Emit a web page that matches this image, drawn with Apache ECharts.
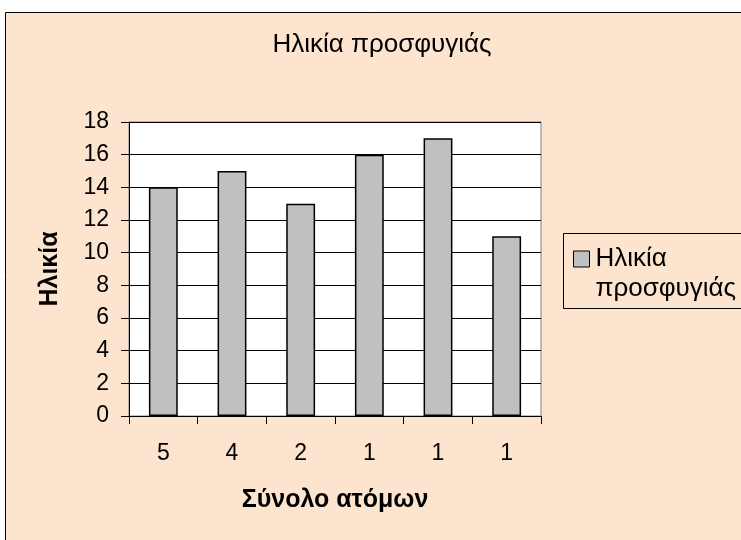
<!DOCTYPE html>
<html>
<head>
<meta charset="utf-8">
<script src="https://cdn.jsdelivr.net/npm/echarts@6/dist/echarts.min.js"></script>
<style>
  html, body { margin: 0; padding: 0; background: #fff; }
  #chart { width: 741px; height: 540px; }
</style>
</head>
<body>
<div id="chart"></div>
<script>
// δεδομένα
const categories = ['5', '4', '2', '1', '1', '1'];
const ages = [14, 15, 13, 16, 17, 11];
const seriesName = 'Ηλικία προσφυγιάς';
const yTicks = { min: 0, max: 18, interval: 2 };

const font = 'Arial, "Liberation Sans", sans-serif';

const chart = echarts.init(document.getElementById('chart'));

chart.setOption({
  animation: false,
  backgroundColor: '#ffffff',
  graphic: [
    {
      type: 'rect',
      z: -10,
      shape: { x: 5.5, y: 12.5, width: 760, height: 560 },
      style: { fill: '#fde4cf', stroke: '#000', lineWidth: 1 },
      silent: true,
    },
    {
      // πλαίσιο υπομνήματος
      type: 'rect',
      z: 5,
      shape: { x: 563.5, y: 233.5, width: 200, height: 75 },
      style: { fill: 'transparent', stroke: '#000', lineWidth: 1 },
      silent: true,
    },
  ],
  title: {
    text: seriesName,
    left: 377,
    textAlign: 'center',
    top: 27,
    textStyle: { fontFamily: font, fontSize: 26, fontWeight: 'normal', color: '#000' },
  },
  legend: {
    left: 573,
    top: 214,
    padding: 0,
    itemWidth: 16,
    itemHeight: 16,
    itemGap: 5,
    icon: 'rect',
    itemStyle: { borderColor: '#000', borderWidth: 1 },
    // κενή πρώτη γραμμή ώστε το εικονίδιο να στοιχίζεται με τη 1η γραμμή
    formatter: () => '\nΗλικία\nπροσφυγιάς',
    textStyle: {
      fontFamily: font,
      fontSize: 26,
      color: '#000',
      lineHeight: 30,
      padding: [0, 0, 0, 1],
    },
  },
  grid: {
    left: 129,
    top: 122,
    right: 200,
    bottom: 124,
    show: true,
    backgroundColor: '#fff',
    borderColor: '#808080',
    borderWidth: 1,
  },
  xAxis: {
    type: 'category',
    data: categories,
    name: 'Σύνολο ατόμων',
    nameLocation: 'middle',
    nameGap: 72,
    nameTextStyle: { fontFamily: font, fontSize: 25, fontWeight: 'bold', color: '#000' },
    axisLine: { lineStyle: { color: '#000', width: 1 } },
    axisTick: { show: true, length: 8, lineStyle: { color: '#000' } },
    axisLabel: { fontFamily: font, fontSize: 23, color: '#000', margin: 26 },
  },
  yAxis: {
    type: 'value',
    min: yTicks.min,
    max: yTicks.max,
    interval: yTicks.interval,
    name: 'Ηλικία',
    nameLocation: 'middle',
    nameGap: 66,
    nameTextStyle: { fontFamily: font, fontSize: 25, fontWeight: 'bold', color: '#000' },
    axisLine: { show: true, lineStyle: { color: '#000', width: 1 } },
    axisTick: { show: true, length: 8, lineStyle: { color: '#000' } },
    axisLabel: { fontFamily: font, fontSize: 23, color: '#000', margin: 20 },
    splitLine: { show: true, lineStyle: { color: '#000', width: 1 } },
  },
  series: [
    {
      name: seriesName,
      type: 'bar',
      data: ages,
      barWidth: '42%',
      itemStyle: { color: '#c0c0c0', borderColor: '#000', borderWidth: 1.5 },
    },
  ],
});
</script>
</body>
</html>
